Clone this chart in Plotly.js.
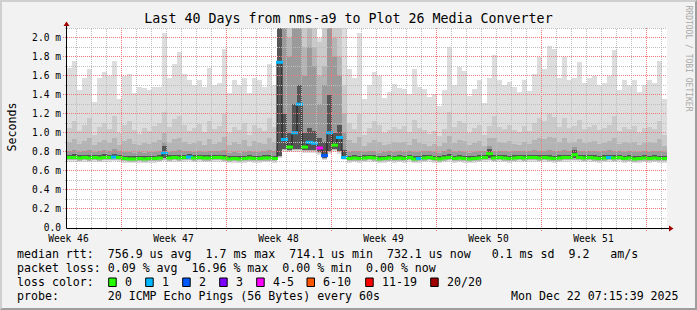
<!DOCTYPE html>
<html><head><meta charset="utf-8">
<script src="https://cdn.plot.ly/plotly-3.0.1.min.js"></script>
<style>
html,body{margin:0;padding:0;background:#f2f2f2;}
#wrap{position:relative;width:697px;height:310px;overflow:hidden;}
#chart{width:697px;height:310px;}
#frame{position:absolute;left:0;top:0;width:697px;height:310px;box-sizing:border-box;border-top:2px solid #cfcfcf;border-left:2px solid #cfcfcf;border-right:2px solid #9e9e9e;border-bottom:2px solid #9e9e9e;pointer-events:none;}
</style></head>
<body><div id="wrap"><div id="chart"></div><div id="frame"></div></div>
<script>
// ---- time base: 120 bins of 8 hours over the last 40 days ----
const graphStart = Date.UTC(2025, 10, 12, 9, 40);
const binHours = 8;
const weekLabels = ["Week 46","Week 47","Week 48","Week 49","Week 50","Week 51"];

// ---- smoke layers (ms), from the outer (max) ping inwards ----
const pingMax = [1.68,1.75,1.45,1.57,1.67,1.32,1.57,1.64,1.60,1.75,
 1.35,1.60,1.62,1.42,1.48,1.47,1.45,1.48,1.48,2.05,
 1.58,1.72,1.85,1.62,1.55,1.50,1.55,1.48,1.68,1.50,
 1.52,1.88,1.42,1.55,1.50,1.58,1.42,1.58,1.55,1.48,
 1.72,1.50,
 2.3,2.3,2.3,2.3,2.3,2.3,2.3,2.3,2.0,2.3,2.3,2.3,2.3,2.3,
 1.67,1.57,2.05,1.35,1.50,1.64,1.60,1.37,1.43,1.51,
 1.47,1.46,1.41,1.67,1.48,1.46,1.38,1.41,1.28,1.45,
 1.90,1.50,1.69,1.65,1.39,1.46,1.55,1.31,1.57,1.82,
 1.55,1.50,1.53,1.48,1.43,1.55,1.44,1.62,1.80,1.67,
 1.91,1.88,1.58,1.80,1.55,1.58,1.74,1.52,1.57,1.60,
 1.50,1.52,1.60,1.87,1.45,1.55,1.50,1.55,1.43,1.50,
 1.55,1.52,1.75,1.35];
const ping19 = [1.05,1.12,1.02,1.08,1.15,0.98,1.06,1.10,1.04,1.18,
 1.00,1.08,1.12,1.03,0.99,1.05,1.02,1.07,1.10,1.22,
 1.06,1.14,1.18,1.08,1.02,1.05,1.09,1.01,1.12,1.04,
 1.07,1.20,1.00,1.06,1.03,1.10,0.98,1.08,1.05,1.02,
 1.15,1.06,
 2.3,2.3,2.3,2.3,2.3,2.3,2.3,2.3,1.95,2.3,2.3,2.3,2.3,1.5,
 1.10,1.04,1.20,0.98,1.05,1.12,1.08,1.00,1.03,1.06,
 1.04,1.07,1.01,1.13,1.05,1.03,0.99,1.02,0.97,1.04,
 1.22,1.06,1.12,1.10,1.00,1.05,1.08,0.98,1.07,1.18,
 1.06,1.04,1.08,1.03,1.01,1.07,1.02,1.10,1.16,1.12,
 1.20,1.17,1.06,1.15,1.05,1.07,1.13,1.04,1.06,1.08,
 1.03,1.05,1.08,1.18,1.02,1.06,1.04,1.07,1.00,1.05,
 1.06,1.04,1.12,0.98];
const ping18 = [0.90,0.93,0.88,0.91,0.94,0.87,0.90,0.92,0.89,0.95,
 0.87,0.91,0.93,0.88,0.87,0.89,0.88,0.90,0.92,1.00,
 0.89,0.93,0.95,0.90,0.88,0.89,0.91,0.87,0.93,0.88,
 0.90,0.96,0.87,0.90,0.88,0.92,0.86,0.91,0.89,0.88,
 0.94,0.90,
 2.3,2.3,2.0,2.3,2.3,1.9,2.1,1.9,1.6,1.7,2.3,2.0,1.8,1.2,
 0.92,0.89,0.96,0.86,0.89,0.92,0.90,0.87,0.88,0.90,
 0.89,0.90,0.87,0.93,0.89,0.88,0.86,0.88,0.86,0.89,
 0.97,0.89,0.92,0.91,0.87,0.89,0.91,0.86,0.95,0.94,
 0.90,0.89,0.91,0.88,0.87,0.90,0.88,0.92,0.95,0.93,
 0.96,0.95,0.90,0.94,0.89,0.90,0.93,0.89,0.90,0.91,
 0.88,0.89,0.91,0.95,0.88,0.90,0.89,0.90,0.87,0.89,
 0.90,0.89,0.93,0.86];
const ping16 = [0.81,0.82,0.80,0.81,0.82,0.80,0.81,0.82,0.81,0.83,
 0.81,0.80,0.80,0.79,0.80,0.79,0.80,0.80,0.81,0.90,
 0.80,0.81,0.82,0.81,0.81,0.80,0.81,0.80,0.81,0.81,
 0.81,0.82,0.79,0.80,0.79,0.80,0.81,0.80,0.80,0.81,
 0.82,0.81,
 2.3,2.3,1.8,2.3,2.3,1.6,1.9,1.7,1.3,1.5,2.3,1.8,1.6,1.0,
 0.80,0.81,0.81,0.80,0.81,0.81,0.79,0.80,0.81,0.80,
 0.81,0.80,0.81,0.80,0.80,0.81,0.81,0.80,0.79,0.81,
 0.83,0.80,0.81,0.80,0.79,0.80,0.81,0.81,0.86,0.81,
 0.81,0.81,0.80,0.81,0.81,0.81,0.81,0.82,0.81,0.81,
 0.82,0.81,0.81,0.82,0.81,0.85,0.81,0.81,0.81,0.81,
 0.80,0.81,0.82,0.81,0.81,0.80,0.81,0.80,0.80,0.81,
 0.80,0.81,0.81,0.80];
const ping13 = [0.77,0.775,0.765,0.77,0.77,0.77,0.765,0.775,0.77,0.78,
 0.77,0.76,0.755,0.755,0.76,0.755,0.76,0.76,0.765,0.86,
 0.765,0.77,0.77,0.77,0.775,0.765,0.77,0.765,0.765,0.77,
 0.77,0.77,0.755,0.76,0.755,0.76,0.765,0.76,0.76,0.765,
 0.77,0.76,
 2.1,1.2,1.0,1.3,1.5,1.0,1.05,1.02,0.95,0.9,1.4,1.0,1.08,0.82,
 0.76,0.765,0.76,0.765,0.77,0.765,0.755,0.76,0.765,0.76,
 0.765,0.76,0.77,0.755,0.76,0.765,0.77,0.76,0.755,0.765,
 0.775,0.76,0.765,0.76,0.755,0.76,0.765,0.77,0.83,0.765,
 0.77,0.765,0.76,0.765,0.77,0.765,0.77,0.77,0.765,0.77,
 0.765,0.76,0.765,0.77,0.77,0.82,0.77,0.765,0.77,0.765,
 0.76,0.765,0.77,0.765,0.77,0.76,0.765,0.755,0.76,0.765,
 0.76,0.765,0.76,0.76];
const ping4 = [0.725,0.725,0.72,0.725,0.72,0.725,0.72,0.725,0.725,0.73,
 0.725,0.715,0.71,0.71,0.715,0.71,0.715,0.715,0.72,0.73,
 0.72,0.725,0.72,0.725,0.73,0.72,0.725,0.72,0.72,0.725,
 0.725,0.72,0.71,0.715,0.71,0.715,0.72,0.715,0.715,0.72,
 0.72,0.715,
 0.76,0.83,0.82,0.83,0.83,0.82,0.82,0.82,0.80,0.73,0.81,0.83,0.81,0.73,
 0.715,0.72,0.715,0.72,0.725,0.72,0.71,0.715,0.72,0.715,
 0.72,0.715,0.725,0.71,0.715,0.72,0.725,0.715,0.71,0.72,
 0.725,0.715,0.72,0.715,0.71,0.715,0.72,0.725,0.73,0.72,
 0.725,0.72,0.715,0.72,0.725,0.72,0.725,0.725,0.72,0.725,
 0.72,0.715,0.72,0.725,0.725,0.73,0.725,0.72,0.725,0.72,
 0.715,0.72,0.725,0.72,0.725,0.715,0.72,0.71,0.715,0.72,
 0.715,0.72,0.715,0.715];
const ping2 = [0.71,0.71,0.705,0.71,0.705,0.71,0.705,0.71,0.71,0.715,
 0.71,0.70,0.695,0.695,0.70,0.695,0.70,0.70,0.705,0.715,
 0.705,0.71,0.705,0.71,0.715,0.705,0.71,0.705,0.705,0.71,
 0.71,0.705,0.695,0.70,0.695,0.70,0.705,0.70,0.70,0.705,
 0.705,0.70,
 0.75,0.815,0.81,0.815,0.815,0.805,0.805,0.805,0.785,0.72,0.795,0.815,0.795,0.72,
 0.70,0.705,0.70,0.705,0.71,0.705,0.695,0.70,0.705,0.70,
 0.705,0.70,0.71,0.695,0.70,0.705,0.71,0.70,0.695,0.705,
 0.71,0.70,0.705,0.70,0.695,0.70,0.705,0.71,0.715,0.705,
 0.71,0.705,0.70,0.705,0.71,0.705,0.71,0.71,0.705,0.71,
 0.705,0.70,0.705,0.71,0.71,0.715,0.71,0.705,0.71,0.705,
 0.70,0.705,0.71,0.705,0.71,0.70,0.705,0.695,0.70,0.705,
 0.70,0.705,0.70,0.70];
const pingMin = [0.695,0.695,0.69,0.695,0.69,0.695,0.69,0.695,0.695,0.70,
 0.695,0.685,0.68,0.68,0.685,0.68,0.685,0.685,0.69,0.70,
 0.69,0.695,0.69,0.695,0.70,0.69,0.695,0.69,0.69,0.695,
 0.695,0.69,0.68,0.685,0.68,0.685,0.69,0.685,0.685,0.69,
 0.69,0.685,
 0.74,0.80,0.80,0.80,0.80,0.79,0.79,0.79,0.77,0.71,0.78,0.80,0.78,0.71,
 0.685,0.69,0.685,0.69,0.695,0.69,0.68,0.685,0.69,0.685,
 0.69,0.685,0.695,0.68,0.685,0.69,0.695,0.685,0.68,0.69,
 0.695,0.685,0.69,0.685,0.68,0.685,0.69,0.695,0.70,0.69,
 0.695,0.69,0.685,0.69,0.695,0.69,0.695,0.695,0.69,0.695,
 0.69,0.685,0.69,0.695,0.695,0.70,0.695,0.69,0.695,0.69,
 0.685,0.69,0.695,0.69,0.695,0.685,0.69,0.68,0.685,0.69,
 0.685,0.69,0.685,0.685];
// ---- median rtt (ms) and lost pings (of 20) per bin ----
const medianRtt = [0.74,0.74,0.735,0.74,0.735,0.74,0.735,0.74,0.74,0.745,
 0.74,0.73,0.725,0.725,0.73,0.725,0.73,0.73,0.735,0.79,
 0.735,0.74,0.735,0.74,0.745,0.735,0.74,0.735,0.735,0.74,
 0.74,0.735,0.725,0.73,0.725,0.73,0.735,0.73,0.73,0.735,
 0.735,0.73,
 1.74,0.93,0.85,1.00,1.30,0.85,0.90,0.89,0.84,0.76,1.00,0.87,0.95,0.74,
 0.73,0.735,0.73,0.735,0.74,0.735,0.725,0.73,0.735,0.73,
 0.735,0.73,0.74,0.725,0.73,0.735,0.74,0.73,0.725,0.735,
 0.74,0.73,0.735,0.73,0.725,0.73,0.735,0.74,0.78,0.735,
 0.74,0.735,0.73,0.735,0.74,0.735,0.74,0.74,0.735,0.74,
 0.735,0.73,0.735,0.74,0.74,0.77,0.74,0.735,0.74,0.735,
 0.73,0.735,0.74,0.735,0.74,0.73,0.735,0.725,0.73,0.735,
 0.73,0.735,0.73,0.73];
const lostPings = [0,0,0,0,0,0,0,0,0,1, 0,0,0,0,0,0,0,0,0,1,
 0,0,0,0,1,0,0,0,0,0, 0,0,0,0,0,0,0,0,0,0, 0,0,
 1,1,0,1,1,0,1,1,4,2,1,0,1,1,
 0,0,0,0,0,0,0,0,0,0, 0,0,0,0,1,0,0,0,0,0,
 0,0,0,0,0,0,0,0,0,0, 0,0,0,0,0,0,0,0,0,0,
 0,0,0,0,0,0,0,0,0,0, 0,0,1,0,0,0,0,0,0,0,
 0,0,0,0];

// ---- loss colour legend ----
const lossLabels = ["0","1","2","3","4-5","6-10","11-19","20/20"];
const lossColors = ["#26ff00","#00b8ff","#0059ff","#7e00ff","#ff00ff","#ff5500","#ff0000","#a10000"];
const lossUpper  = [0,1,2,3,5,10,19,20];

// ---- text ----
const titleText = "Last 40 Days from nms-a9 to Plot 26 Media Converter";
const legendLines = [
 "median rtt:  756.9 us avg  1.7 ms max  714.1 us min  732.1 us now   0.1 ms sd  9.2   am/s",
 "packet loss: 0.09 % avg  16.96 % max  0.00 % min  0.00 % now",
 "loss color:",
 "probe:       20 ICMP Echo Pings (56 Bytes) every 60s"
];
const stampText = "Mon Dec 22 07:15:39 2025";
const yTicks = [0,0.2,0.4,0.6,0.8,1.0,1.2,1.4,1.6,1.8,2.0];
const yTickText = ["0.0","0.2 m","0.4 m","0.6 m","0.8 m","1.0 m","1.2 m","1.4 m","1.6 m","1.8 m","2.0 m"];

// ================= drawing =================
const H = 3600e3, D = 24*H, binMs = binHours*H;
const xs = medianRtt.map((_, i) => graphStart + (i + 0.5)*binMs);
const graphEnd = graphStart + 40*D;
const yMax = 2.1;

const layers = [
 [pingMax, "#dddddd"], [ping19, "#cacaca"], [ping18, "#b4b4b4"],
 [ping16, "#9a9a9a"], [ping13, "#555555"],
 [ping4, "#b4b4b4"], [ping2, "#dddddd"], [pingMin, "#ffffff"]
];
const traces = layers.map(([vals, col]) => ({
 type: "bar", x: xs, y: vals, width: binMs,
 marker: {color: col, line: {width: 0}}, hoverinfo: "skip", showlegend: false
}));
function lossColor(l){ for (let k = 0; k < lossUpper.length; k++) if (l <= lossUpper[k]) return lossColors[k]; return lossColors[7]; }
traces.push({type: "scatter", mode: "lines", x: xs, y: medianRtt, line: {shape: "hvh", color: "#1a1a1a", width: 1}, hoverinfo: "skip", showlegend: false});
traces.push({type: "scatter", mode: "markers", x: xs, y: medianRtt,
 marker: {symbol: "line-ew", size: 5, line: {width: 3, color: lostPings.map(lossColor)}},
 hoverinfo: "skip", showlegend: false});

// plot geometry in pixels
const L = 67, T = 28, PW = 600, PH = 200;
const px = x => (x - L)/PW, py = y => (T + PH - y)/PH;
const valToPix = v => T + PH - v/yMax*PH;
const timeToPix = t => L + (t - graphStart)/(graphEnd - graphStart)*PW;

const shapes = [];
const majorCol = "#f07878", minorCol = "#bdbdbd";
const gridLine = (x0, x1, y0, y1, major) => shapes.push({type: "line", layer: "above", xref: "paper", yref: "paper",
  x0: px(x0), x1: px(x1), y0: py(y0), y1: py(y1), line: {color: major ? majorCol : minorCol, width: 1, dash: "1px,1px"}});
for (let pass = 0; pass < 2; pass++) {
 for (let k = 1; k <= 21; k++) {
  const major = k % 2 === 0;
  if (major !== (pass === 1)) continue;
  const yp = Math.floor(valToPix(k/10)) + 0.5;
  gridLine(major ? 63 : 65, 667, yp, yp, major);
 }
 for (let d = 1; d <= 40; d++) {
  const t = Date.UTC(2025, 10, 12 + d);
  if (t >= graphEnd) break;
  const major = new Date(t).getUTCDay() === 0;
  if (major !== (pass === 1)) continue;
  const xp = Math.round(timeToPix(t)) + 0.5;
  gridLine(xp, xp, major ? 231 : 230, 28, major);
 }
}
// axes with arrow heads
shapes.push({type: "line", layer: "above", xref: "paper", yref: "paper", x0: px(66.5), x1: px(670), y0: py(228.5), y1: py(228.5), line: {color: "#000", width: 1}});
shapes.push({type: "line", layer: "above", xref: "paper", yref: "paper", x0: px(66.5), x1: px(66.5), y0: py(228.5), y1: py(25), line: {color: "#000", width: 1}});
shapes.push({type: "path", layer: "above", xref: "paper", yref: "paper",
 path: `M ${px(669)} ${py(225.5)} L ${px(673.5)} ${py(228.5)} L ${px(669)} ${py(231.5)} Z`, fillcolor: "#a00000", line: {width: 0}});
shapes.push({type: "path", layer: "above", xref: "paper", yref: "paper",
 path: `M ${px(63.5)} ${py(26)} L ${px(66.5)} ${py(21.5)} L ${px(69.5)} ${py(26)} Z`, fillcolor: "#a00000", line: {width: 0}});

const mono = "DejaVu Sans Mono";
const nb = s => s.replace(/ /g, "\u00a0");
const annotations = [];
const legY = [254.3, 268.3, 282.3, 296];
legendLines.forEach((s, i) => annotations.push({xref: "paper", yref: "paper", x: px(16), y: py(legY[i]),
  xanchor: "left", yanchor: "middle", showarrow: false, borderpad: 0, text: nb(s), font: {family: mono, size: 11.6, color: "#000"}}));
annotations.push({xref: "paper", yref: "paper", x: px(680), y: py(296), xanchor: "right", yanchor: "middle",
  showarrow: false, borderpad: 0, text: stampText, font: {family: mono, size: 11.6, color: "#000"}});
const boxX = [108.7, 145.7, 182.7, 219.7, 256.7, 307, 365.7, 430.7];
lossLabels.forEach((lab, k) => {
 shapes.push({type: "rect", layer: "above", xref: "paper", yref: "paper", x0: px(boxX[k]), x1: px(boxX[k] + 7.5),
   y0: py(286.5), y1: py(278), fillcolor: lossColors[k], line: {color: "#000", width: 1}});
 annotations.push({xref: "paper", yref: "paper", x: px(boxX[k] + 15.3), y: py(282.3), xanchor: "left", yanchor: "middle",
   showarrow: false, borderpad: 0, text: lab, font: {family: mono, size: 11.6, color: "#000"}});
});
annotations.push({xref: "paper", yref: "paper", x: px(11), y: py(127.5), textangle: -90, xanchor: "center", yanchor: "middle",
  showarrow: false, text: "Seconds", font: {family: mono, size: 11.6, color: "#000"}});
annotations.push({xref: "paper", yref: "paper", x: px(688.5), y: py(58), textangle: 90, xanchor: "center", yanchor: "middle",
  showarrow: false, text: nb("RRDTOOL / TOBI OETIKER"), font: {family: mono, size: 8, color: "#a8a8a8"}});

const layout = {
 width: 697, height: 310, paper_bgcolor: "#f2f2f2", plot_bgcolor: "#ffffff",
 margin: {l: L, r: 697 - L - PW, t: T, b: 310 - T - PH, pad: 0},
 barmode: "overlay", bargap: 0, showlegend: false,
 title: {text: titleText, x: 0.5, xanchor: "center", y: 1 - 18.5/310, yanchor: "middle",
   font: {family: mono, size: 13.3, color: "#000"}},
 xaxis: {type: "date", range: [graphStart, graphEnd], showgrid: false, zeroline: false, showline: false,
   tickmode: "array", tickvals: weekLabels.map((_, k) => Date.UTC(2025, 10, 12, 12) + 7*k*D), ticktext: weekLabels,
   ticks: "", ticklabelstandoff: 3, tickfont: {family: mono, size: 9.6, color: "#000"}, fixedrange: true},
 yaxis: {range: [0, yMax], showgrid: false, zeroline: false, showline: false,
   tickmode: "array", tickvals: yTicks, ticktext: yTickText, ticks: "", ticklabelstandoff: 5,
   tickfont: {family: mono, size: 9.6, color: "#000"}, fixedrange: true},
 shapes: shapes, annotations: annotations
};
Plotly.newPlot("chart", traces, layout, {staticPlot: true, displayModeBar: false});
</script></body></html>
